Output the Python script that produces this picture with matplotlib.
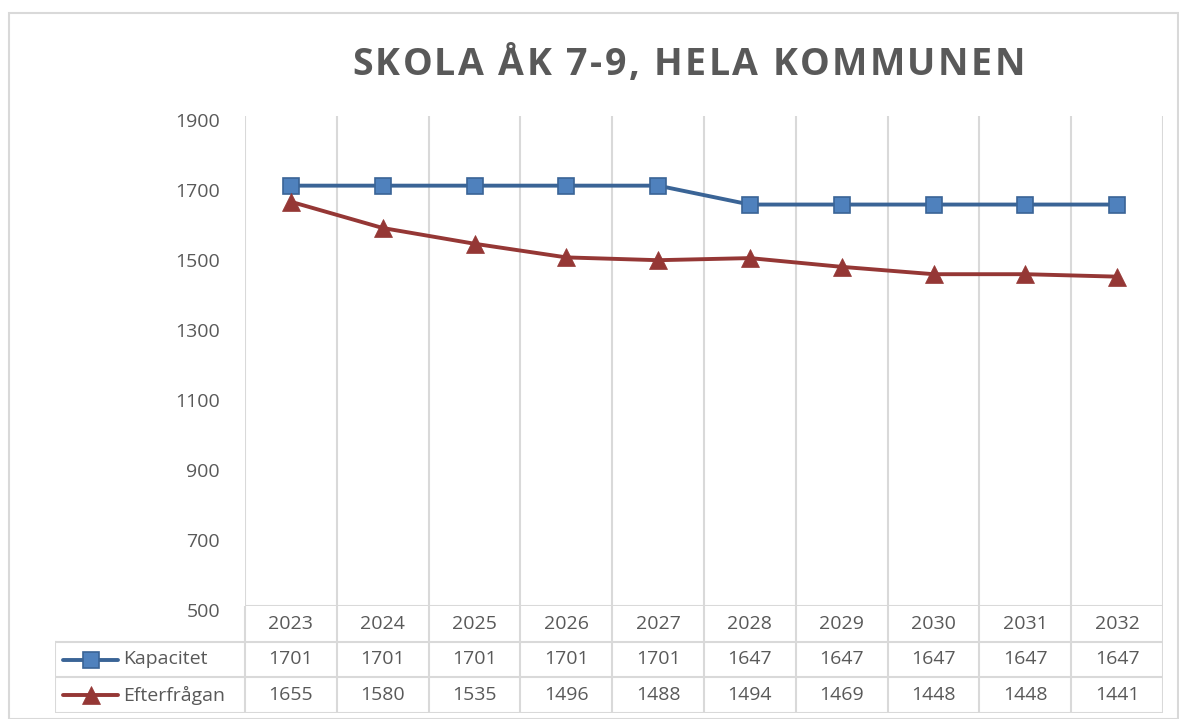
import numpy as np
import matplotlib.pyplot as plt
import matplotlib.transforms as mtrans
from matplotlib.lines import Line2D
from matplotlib.patches import Rectangle
from matplotlib.font_manager import FontProperties

years = ['2023', '2024', '2025', '2026', '2027', '2028', '2029', '2030', '2031', '2032']
kapacitet = [1701, 1701, 1701, 1701, 1701, 1647, 1647, 1647, 1647, 1647]
efterfragan = [1655, 1580, 1535, 1496, 1488, 1494, 1469, 1448, 1448, 1441]
series_names = ['Kapacitet', 'Efterfrågan']
yticks = [500, 700, 900, 1100, 1300, 1500, 1700, 1900]
title = 'SKOLA ÅK 7-9, HELA KOMMUNEN'

W, H = 1179, 719
grid_c = '#d9d9d9'
text_c = '#595959'
blue_line, blue_face = '#3a6496', '#4f81bd'
red_c = '#953735'
font = 'Open Sans'
fs = 14

plt.rcParams['font.family'] = [font, 'DejaVu Sans']

fig = plt.figure(figsize=(W / 100, H / 100), dpi=100)

# outer chart border
fig.add_artist(Rectangle((9 / W, 0), 1169 / W, 1 - 13 / H, transform=fig.transFigure,
                         fill=False, edgecolor=grid_c, linewidth=1.5))

# plot area in pixels
x0, x1 = 245, 1163
y_top, y_bot = 116, 606
ax = fig.add_axes([x0 / W, 1 - y_bot / H, (x1 - x0) / W, (y_bot - y_top) / H])

x = np.arange(len(years))
ax.plot(x, kapacitet, color=blue_line, lw=2.8, marker='s', ms=11.5,
        mfc=blue_face, mec=blue_line, mew=1.2, zorder=3)
ax.plot(x, efterfragan, color=red_c, lw=2.8, marker='^', ms=13,
        mfc=red_c, mec=red_c, mew=0.5, zorder=3)

ax.set_xlim(-0.5, len(years) - 0.5)
ax.set_ylim(500, 1900)
ax.set_yticks(yticks)
ax.set_xticks([])
for b in np.arange(-0.5, len(years), 1.0):
    ax.axvline(b, color=grid_c, lw=1.5, zorder=1)
ax.tick_params(axis='y', length=0, pad=18, labelsize=fs, labelcolor=text_c)
# labels sit a few pixels below their value, as in the original
shift = mtrans.ScaledTranslation(0, -4 / 100, fig.dpi_scale_trans)
for lab in ax.get_yticklabels():
    lab.set_transform(lab.get_transform() + shift)
for s in ax.spines.values():
    s.set_visible(False)
ax.axhline(500, color=grid_c, lw=1.5, zorder=1)

# title with wide letter spacing, spread between x=352 and x=1025
renderer = fig.canvas.get_renderer()
tprop = FontProperties(family=font, weight='bold', size=27)
widths = [renderer.get_text_width_height_descent(title[:i], tprop, ismath=False)[0]
          for i in range(len(title) + 1)]
t_start, t_end = 352, 1025
extra = (t_end - t_start - widths[-1]) / (len(title) - 1)
for i, ch in enumerate(title):
    xp = t_start + widths[i] + i * extra
    fig.text(xp / W, 1 - 75 / H, ch, ha='left', va='baseline',
             fontproperties=tprop, color=text_c)

# data table below the plot
t_left, t_bot = 55, 713
unit = (x1 - x0) / len(years)
left_u = -0.5 - (x0 - t_left) / unit
tab = fig.add_axes([t_left / W, 1 - t_bot / H, (x1 - t_left) / W, (t_bot - y_bot) / H])
tab.set_xlim(left_u, len(years) - 0.5)
tab.set_ylim(3, 0)
tab.axis('off')

lw = 1.5
for b in np.arange(-0.5, len(years), 1.0):
    tab.plot([b, b], [0, 3], color=grid_c, lw=lw)
tab.plot([left_u, left_u], [1, 3], color=grid_c, lw=lw)
for r in [1, 2, 3]:
    tab.plot([left_u, len(years) - 0.5], [r, r], color=grid_c, lw=lw)

for i, yr in enumerate(years):
    tab.text(i, 0.5, yr, ha='center', va='center', fontsize=fs, color=text_c)
    tab.text(i, 1.5, str(kapacitet[i]), ha='center', va='center', fontsize=fs, color=text_c)
    tab.text(i, 2.5, str(efterfragan[i]), ha='center', va='center', fontsize=fs, color=text_c)

def px(v):
    return (v - x0) / unit - 0.5

styles = [dict(color=blue_line, marker='s', ms=11.5, mfc=blue_face, mec=blue_line, mew=1.2),
          dict(color=red_c, marker='^', ms=13, mfc=red_c, mec=red_c, mew=0.5)]
for r, (name, st) in enumerate(zip(series_names, styles)):
    yy = 1.5 + r
    tab.add_line(Line2D([px(63), px(118)], [yy, yy], lw=2.8, color=st['color'],
                        solid_capstyle='round'))
    tab.plot([px(91)], [yy], ls='none', **st)
    tab.text(px(123), yy, name, ha='left', va='center', fontsize=fs, color=text_c)

fig.savefig('out.png', dpi=100)
